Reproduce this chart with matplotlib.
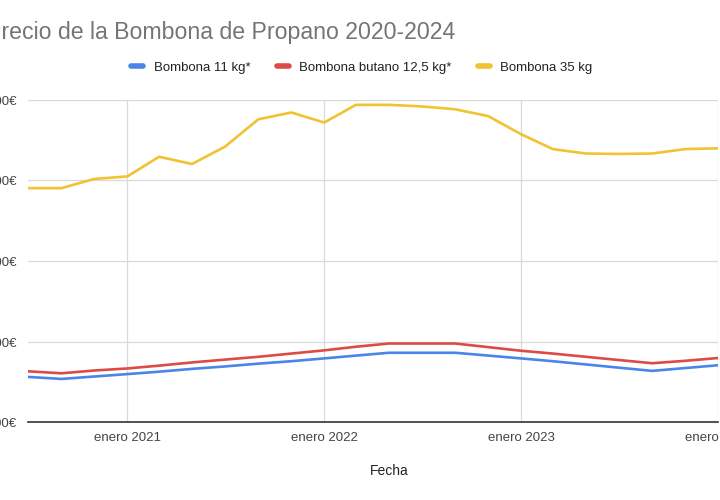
import matplotlib
matplotlib.use("Agg")
import matplotlib.pyplot as plt
from matplotlib.lines import Line2D
import pandas as pd

# precios bimestrales (jul 2020 - ene 2024)
fechas = pd.date_range("2020-07-01", "2024-01-01", freq="2MS")
bombona_11 = [11.2, 10.7, 11.3, 11.9, 12.5, 13.2, 13.8, 14.5, 15.1, 15.8, 16.5,
              17.2, 17.2, 17.2, 16.5, 15.8, 15.1, 14.3, 13.5, 12.7, 13.4, 14.1]
butano_125 = [12.6, 12.1, 12.8, 13.3, 14.0, 14.8, 15.5, 16.2, 17.0, 17.8, 18.7,
              19.5, 19.5, 19.5, 18.6, 17.7, 17.0, 16.2, 15.4, 14.6, 15.2, 15.9]
bombona_35 = [58.1, 58.1, 60.4, 61.0, 65.9, 64.1, 68.4, 75.2, 76.9, 74.4, 78.8,
              78.8, 78.4, 77.7, 76.0, 71.5, 67.8, 66.7, 66.6, 66.7, 67.8, 68.0]

series = ["Bombona 11 kg*", "Bombona butano 12,5 kg*", "Bombona 35 kg"]
colores = ["#4A86E8", "#DC4B45", "#F1C232"]
y_ticks = [0, 20, 40, 60, 80]
y_labels = ["0,00€", "20,00€", "40,00€", "60,00€", "80,00€"]
x_ticks = pd.to_datetime(["2021-01-01", "2022-01-01", "2023-01-01", "2024-01-01"])
x_labels = ["enero 2021", "enero 2022", "enero 2023", "enero 2024"]

plt.rcParams["font.family"] = ["Liberation Sans", "DejaVu Sans"]

fig = plt.figure(figsize=(7.2, 5.0), dpi=100)
ax = fig.add_axes([28 / 720, 1 - 422 / 500, 690 / 720, 322 / 500])

for vals, nombre, c in zip([bombona_11, butano_125, bombona_35], series, colores):
    ax.plot(fechas, vals, color=c, lw=1.9, label=nombre, solid_capstyle="round")

ax.set_xlim(fechas[0], fechas[-1])
ax.set_ylim(0, 80)
ax.set_yticks(y_ticks)
ax.set_yticklabels(y_labels)
ax.set_xticks(x_ticks)
ax.set_xticklabels(x_labels)
ax.tick_params(axis="both", length=0, labelsize=9.5, colors="#444444")
ax.tick_params(axis="y", pad=8)
ax.tick_params(axis="x", pad=7)
ax.grid(True, color="#d9d9d9", lw=0.9)
ax.set_axisbelow(True)
for s in ["top", "right", "left"]:
    ax.spines[s].set_visible(False)
ax.spines["bottom"].set_color("#333333")
ax.spines["bottom"].set_linewidth(1.2)
ax.spines["bottom"].set_zorder(3)

ax.set_xlabel("Fecha", fontsize=10, color="#222222")
ax.xaxis.set_label_coords((389 - 28) / 690, (422 - 464) / 322)

# titulo cortado por la izquierda, como en la imagen
fig.text(455 / 720, 1 - 32 / 500, "Precio de la Bombona de Propano 2020-2024",
         ha="right", va="center", fontsize=16.7, color="#757575")

handles = [Line2D([0], [0], color=c, lw=4, solid_capstyle="round") for c in colores]
fig.legend(handles, series, loc="center", bbox_to_anchor=(362 / 720, 1 - 68 / 500),
           ncol=3, frameon=False, fontsize=9.5, handlelength=0.9,
           handletextpad=0.8, columnspacing=2.0, labelcolor="#222222")

fig.savefig("out.png", dpi=100)
